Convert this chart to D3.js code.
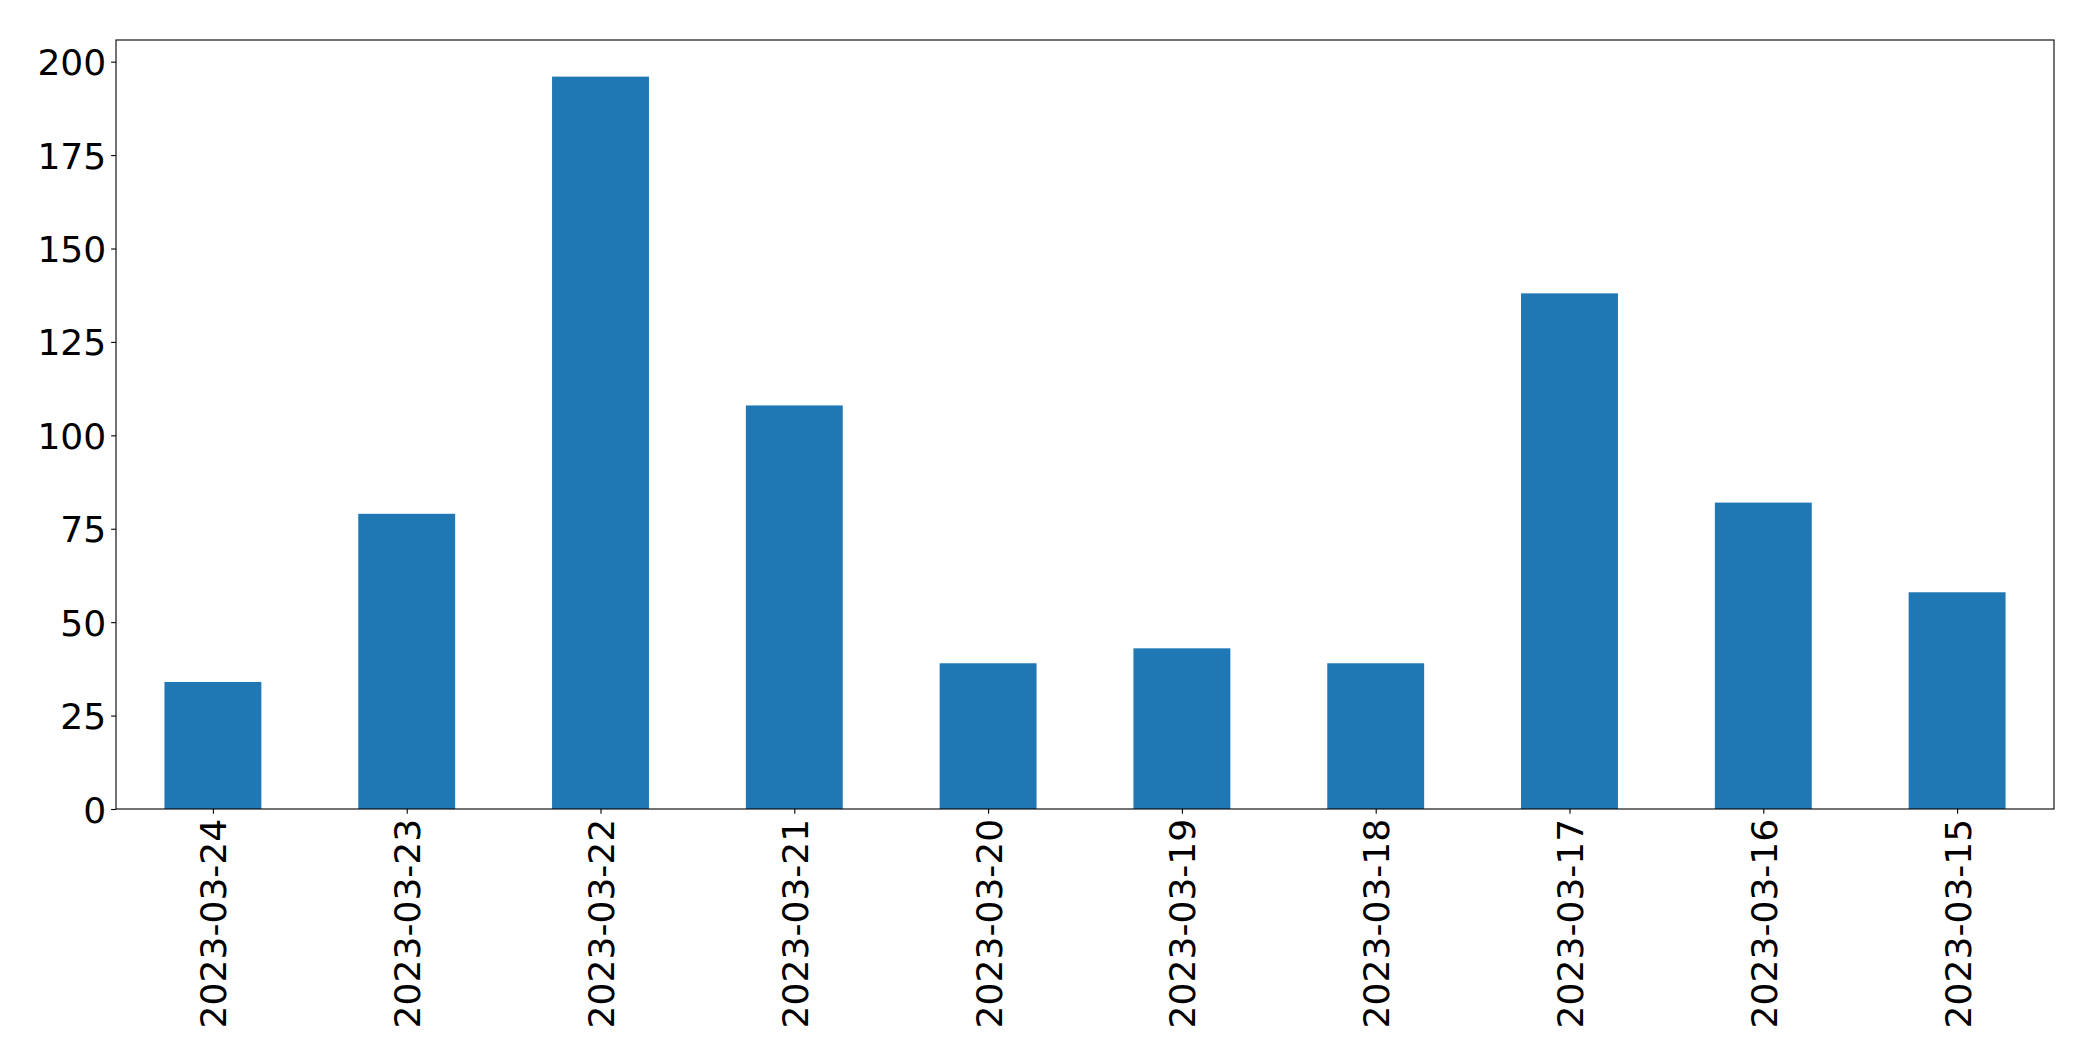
<!DOCTYPE html>
<html>
<head>
<meta charset="utf-8">
<script src="https://cdn.jsdelivr.net/npm/d3@7"></script>
<style>
  html, body { margin: 0; padding: 0; background: #fff; }
  svg { display: block; }
  text { font-family: "DejaVu Sans", sans-serif; }
</style>
</head>
<body>
<svg id="chart" width="2093" height="1061"></svg>
<script>
const categories = ["2023-03-24","2023-03-23","2023-03-22","2023-03-21","2023-03-20","2023-03-19","2023-03-18","2023-03-17","2023-03-16","2023-03-15"];
const values = [34, 79, 196, 108, 39, 43, 39, 138, 82, 58];
const yTicks = [0, 25, 50, 75, 100, 125, 150, 175, 200];

const W = 2093, H = 1061;
const m = { left: 116, right: 2054, top: 40, bottom: 809 };
const svg = d3.select("#chart");

const x = d3.scaleLinear().domain([-0.5, categories.length - 0.5]).range([m.left, m.right]);
const yMax = d3.max(values) * 1.05;
const y = d3.scaleLinear().domain([0, yMax]).range([m.bottom, m.top]);

const barW = x(0.25) - x(-0.25);

svg.append("g").selectAll("rect").data(values).join("rect")
  .attr("x", (d, i) => x(i) - barW / 2)
  .attr("y", d => y(d))
  .attr("width", barW)
  .attr("height", d => y(0) - y(d))
  .attr("fill", "#1f77b4");

const fs = "36.1px";
const tickLen = 4.86;

// Y axis
const yAxis = svg.append("g").attr("transform", `translate(${m.left},0)`)
  .call(d3.axisLeft(y).tickValues(yTicks).tickSize(tickLen).tickPadding(4.86).tickFormat(d3.format("d")));
yAxis.select(".domain").remove();
yAxis.selectAll("line").attr("stroke", "#000").attr("stroke-width", 1.1);
yAxis.selectAll("text").attr("font-size", fs).attr("font-family", "DejaVu Sans").attr("fill", "#000").attr("dy", "0.36em");

// X axis
const xAxis = svg.append("g").attr("transform", `translate(0,${m.bottom})`)
  .call(d3.axisBottom(x).tickValues(d3.range(categories.length)).tickSize(tickLen).tickPadding(4.86).tickFormat(i => categories[i]));
xAxis.select(".domain").remove();
xAxis.selectAll("line").attr("stroke", "#000").attr("stroke-width", 1.1);
xAxis.selectAll("text")
  .attr("font-size", fs).attr("font-family", "DejaVu Sans").attr("fill", "#000")
  .attr("text-anchor", "end")
  .attr("x", 0).attr("y", 0).attr("dy", "0.36em")
  .attr("transform", `translate(0,${tickLen + 4.86}) rotate(-90)`);

// Frame
svg.append("rect")
  .attr("x", m.left).attr("y", m.top)
  .attr("width", m.right - m.left).attr("height", m.bottom - m.top)
  .attr("fill", "none").attr("stroke", "#000").attr("stroke-width", 1.1);
</script>
</body>
</html>
